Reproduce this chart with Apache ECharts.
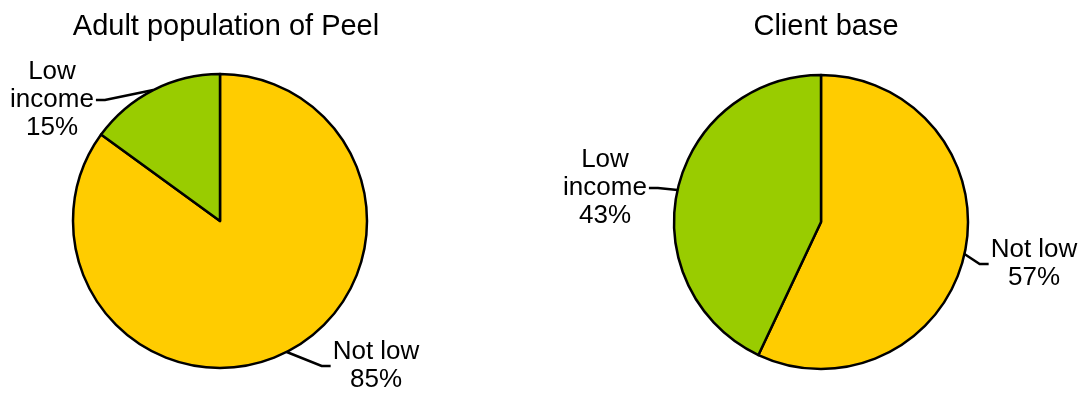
<!DOCTYPE html>
<html>
<head>
<meta charset="utf-8">
<script src="https://cdn.jsdelivr.net/npm/echarts@6/dist/echarts.min.js"></script>
<style>
  html, body { margin: 0; padding: 0; background: #ffffff; }
  #chart { width: 1084px; height: 393px; }
</style>
</head>
<body>
<div id="chart"></div>
<script>
// Income split: adult population of Peel vs. the client base
const categories = ['Not low', 'Low income'];
const labelNames = ['Not low', 'Low\nincome'];
const peelShares = [85, 15];
const clientShares = [57, 43];
const chartTitles = ['Adult population of Peel', 'Client base'];

const FONT = '"Liberation Sans", Arial, Helvetica, sans-serif';
const sliceColors = ['#FFCC00', '#99CC00'];

// Where each label block sits, relative to its pie centre (px), per slice
const pieLayouts = [
  { center: [220, 221], radius: 147, titleX: 226,
    labelOffsets: [[156, 145], [-168, -121]] },
  { center: [821, 222], radius: 147, titleX: 826,
    labelOffsets: [[213, 42], [-216, -34]] }
];

function buildData(values) {
  return categories.map((name, i) => ({
    name: name,
    value: values[i],
    itemStyle: { color: sliceColors[i] }
  }));
}

function makeLayout(pie) {
  return function (params) {
    const off = pie.labelOffsets[params.dataIndex];
    const x = pie.center[0] + off[0];
    const y = pie.center[1] + off[1];
    const w = params.labelRect.width;
    const start = params.labelLinePoints[0];
    // leader ends at the label side facing the pie
    const side = off[0] > 0 ? -1 : 1;
    const endX = x + side * (w / 2 + 2);
    const end = [endX, y];
    const elbow = [endX + side * 9, y];
    return {
      x: x, y: y, align: 'center', verticalAlign: 'middle',
      labelLinePoints: [start, elbow, end]
    };
  };
}

const seriesValues = [peelShares, clientShares];

const option = {
  animation: false,
  backgroundColor: '#ffffff',
  title: pieLayouts.map((pie, i) => ({
    text: chartTitles[i],
    left: pie.titleX,
    top: 12,
    textAlign: 'center',
    padding: 0,
    textStyle: { fontFamily: FONT, fontSize: 29, fontWeight: 'normal', color: '#000000' }
  })),
  series: pieLayouts.map((pie, i) => ({
    type: 'pie',
    center: pie.center,
    radius: pie.radius,
    startAngle: 90,
    clockwise: true,
    avoidLabelOverlap: false,
    silent: true,
    emphasis: { disabled: true, scale: false },
    itemStyle: { borderColor: '#000000', borderWidth: 2.5 },
    label: {
      show: true,
      position: 'outside',
      fontFamily: FONT,
      fontSize: 26,
      lineHeight: 28,
      color: '#000000',
      align: 'center',
      formatter: (p) => labelNames[p.dataIndex] + '\n' + p.value + '%'
    },
    labelLine: {
      show: true,
      length: 10,
      length2: 10,
      smooth: false,
      lineStyle: { color: '#000000', width: 2.5 }
    },
    labelLayout: makeLayout(pie),
    data: buildData(seriesValues[i])
  }))
};

const chart = echarts.init(document.getElementById('chart'), null, { renderer: 'canvas' });
chart.setOption(option);
</script>
</body>
</html>
